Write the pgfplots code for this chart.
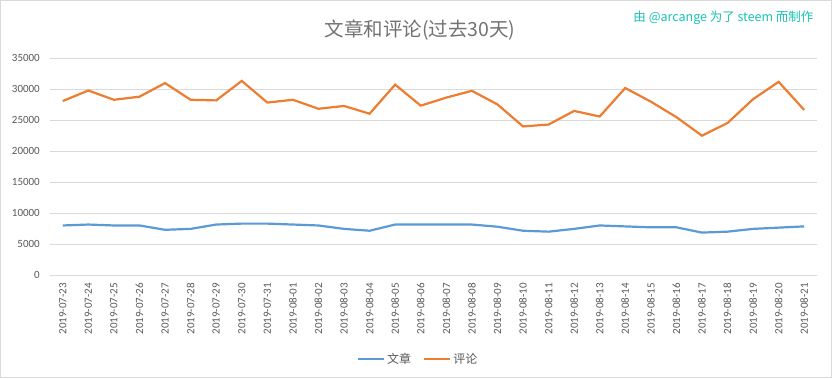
\documentclass[border=0pt]{standalone}
\usepackage{pgfplots}
\pgfplotsset{compat=1.18}
\usepackage{fontspec}
\setmainfont{Carlito}
\newfontfamily\cjk{Noto Sans CJK SC}
\definecolor{blueS}{HTML}{5B9BD5}
\definecolor{orangeS}{HTML}{ED7D31}
\definecolor{txt}{HTML}{595959}
\definecolor{gridc}{HTML}{D9D9D9}
\definecolor{wm}{RGB}{24,196,180}
\begin{document}
\begin{tikzpicture}[x=1pt,y=1pt]
\draw[gridc, line width=1pt, fill=white] (0.5,0.5) rectangle (831.5,377.5);
\node[font=\cjk\fontsize{19.5}{20}\selectfont, text=txt!85] at (420,347.5) {文章和评论(过去30天)};
\node[anchor=east, font=\cjk\fontsize{12.5}{13}\selectfont, text=wm] at (817,360.5) {由 @arcange 为了 steem 而制作};
\begin{axis}[
  at={(50pt,103pt)}, anchor=south west, scale only axis,
  width=767pt, height=216.7pt,
  xmin=-0.5, xmax=29.5, ymin=0, ymax=35000,
  ytick={0,5000,...,35000},
  xtick={0,...,29},
  xticklabels={2019-07-23,2019-07-24,2019-07-25,2019-07-26,2019-07-27,2019-07-28,2019-07-29,2019-07-30,2019-07-31,2019-08-01,2019-08-02,2019-08-03,2019-08-04,2019-08-05,2019-08-06,2019-08-07,2019-08-08,2019-08-09,2019-08-10,2019-08-11,2019-08-12,2019-08-13,2019-08-14,2019-08-15,2019-08-16,2019-08-17,2019-08-18,2019-08-19,2019-08-20,2019-08-21},
  axis line style={draw=none},
  major tick length=0pt,
  ymajorgrids, grid style={gridc, line width=0.9pt},
  scaled y ticks=false,
  /pgf/number format/assume math mode=true,
  /pgf/number format/set thousands separator={},
  x tick label style={rotate=90, anchor=east, inner xsep=8pt, inner ysep=0pt, font=\fontsize{11}{11}\selectfont, text=txt},
  y tick label style={anchor=east, inner xsep=10pt, font=\fontsize{11}{11}\selectfont, text=txt},
  legend style={at={(axis description cs:0.48,-0.388)}, anchor=center, draw=none, fill=none,
    legend columns=2, font=\cjk\fontsize{12}{12}\selectfont, text=txt,
    /tikz/every even column/.append style={column sep=10pt}},
  legend image code/.code={\draw[#1, line width=2.2pt] (0pt,0pt) -- (26pt,0pt);},
]
\addplot[blueS, line width=2.2pt, mark=none] coordinates {
(0,8000) (1,8150) (2,8000) (3,8000) (4,7300) (5,7450) (6,8150) (7,8300) (8,8300) (9,8150)
(10,8000) (11,7450) (12,7150) (13,8150) (14,8150) (15,8150) (16,8150) (17,7800) (18,7150) (19,7000)
(20,7450) (21,8000) (22,7850) (23,7700) (24,7700) (25,6850) (26,7000) (27,7450) (28,7650) (29,7850)};
\addlegendentry{文章}
\addplot[orangeS, line width=2.2pt, mark=none] coordinates {
(0,28100) (1,29800) (2,28300) (3,28800) (4,31000) (5,28300) (6,28200) (7,31350) (8,27850) (9,28300)
(10,26850) (11,27300) (12,26050) (13,30750) (14,27350) (15,28650) (16,29750) (17,27550) (18,24000) (19,24300)
(20,26500) (21,25600) (22,30200) (23,28000) (24,25500) (25,22500) (26,24550) (27,28400) (28,31200) (29,26650)};
\addlegendentry{评论}
\end{axis}
\end{tikzpicture}
\end{document}
